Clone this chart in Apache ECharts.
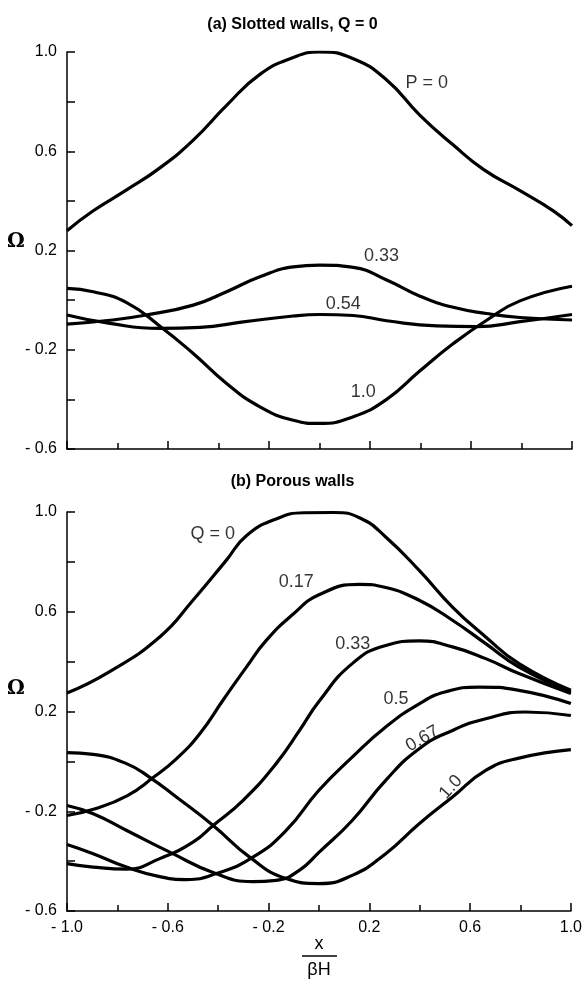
<!DOCTYPE html>
<html>
<head>
<meta charset="utf-8">
<script src="https://cdn.jsdelivr.net/npm/echarts@6/dist/echarts.min.js"></script>
<style>
  html, body { margin: 0; padding: 0; background: #fff; }
  #chart { width: 585px; height: 982px; }
</style>
</head>
<body>
<div id="chart"></div>
<script>
// Axis ranges shared by both panels
const xRange = [-1.0, 1.0];
const yRange = [-0.6, 1.0];

// (a) Slotted walls, Q = 0 : [x/(βH), Ω]
const slottedP0 = [[-1, 0.28], [-0.896, 0.36], [-0.764, 0.444], [-0.632, 0.533], [-0.5, 0.645], [-0.367, 0.786], [-0.236, 0.91], [-0.104, 0.978], [0, 1.0], [0.134, 0.973], [0.266, 0.887], [0.398, 0.745], [0.53, 0.625], [0.649, 0.527], [0.794, 0.441], [0.926, 0.36], [1, 0.30]];
const slottedP033 = [[-1, -0.097], [-0.83, -0.081], [-0.698, -0.062], [-0.5, -0.02], [-0.368, 0.034], [-0.236, 0.094], [-0.104, 0.134], [0, 0.141], [0.134, 0.132], [0.266, 0.081], [0.398, 0.016], [0.53, -0.029], [0.662, -0.054], [0.794, -0.07], [1, -0.08]];
const slottedP054 = [[-1, -0.06], [-0.83, -0.094], [-0.632, -0.114], [-0.473, -0.11], [-0.302, -0.088], [-0.104, -0.064], [0, -0.058], [0.134, -0.062], [0.266, -0.083], [0.464, -0.104], [0.622, -0.107], [0.794, -0.087], [1, -0.058]];
const slottedP1 = [[-1, 0.047], [-0.896, 0.034], [-0.764, -0.01], [-0.632, -0.105], [-0.5, -0.215], [-0.368, -0.336], [-0.236, -0.43], [-0.104, -0.484], [0, -0.497], [0.134, -0.47], [0.266, -0.4], [0.398, -0.285], [0.53, -0.175], [0.662, -0.081], [0.794, -0.003], [1, 0.056]];

// (b) Porous walls : [x/(βH), Ω]
const porousQ0 = [[-1, 0.274], [-0.834, 0.358], [-0.632, 0.499], [-0.5, 0.646], [-0.368, 0.806], [-0.288, 0.905], [-0.17, 0.972], [-0.06, 0.997], [0.06, 0.998], [0.165, 0.975], [0.265, 0.9], [0.398, 0.766], [0.53, 0.619], [0.662, 0.499], [0.794, 0.392], [1, 0.285]];
const porousQ017 = [[-1, -0.217], [-0.895, -0.192], [-0.762, -0.138], [-0.658, -0.065], [-0.566, 0.01], [-0.473, 0.111], [-0.381, 0.245], [-0.288, 0.378], [-0.209, 0.485], [-0.103, 0.59], [0, 0.668], [0.159, 0.71], [0.265, 0.697], [0.398, 0.646], [0.53, 0.566], [0.662, 0.472], [0.794, 0.378], [1, 0.278]];
const porousQ033 = [[-1, -0.41], [-0.896, -0.424], [-0.763, -0.432], [-0.632, -0.39], [-0.5, -0.324], [-0.42, -0.257], [-0.302, -0.157], [-0.17, -0.009], [-0.077, 0.124], [0, 0.24], [0.132, 0.392], [0.265, 0.465], [0.398, 0.483], [0.53, 0.459], [0.662, 0.412], [0.794, 0.352], [1, 0.272]];
const porousQ05 = [[-1, -0.333], [-0.896, -0.37], [-0.764, -0.424], [-0.632, -0.462], [-0.526, -0.474], [-0.407, -0.45], [-0.262, -0.384], [-0.13, -0.277], [0, -0.116], [0.132, 0.017], [0.265, 0.138], [0.398, 0.231], [0.5, 0.278], [0.635, 0.298], [0.794, 0.285], [1, 0.232]];
const porousQ067 = [[-1, -0.177], [-0.896, -0.21], [-0.763, -0.277], [-0.592, -0.364], [-0.41, -0.45], [-0.264, -0.482], [-0.17, -0.477], [-0.078, -0.437], [0, -0.365], [0.132, -0.237], [0.265, -0.076], [0.398, 0.051], [0.53, 0.124], [0.662, 0.171], [0.82, 0.198], [1, 0.184]];
const porousQ1 = [[-1, 0.035], [-0.896, 0.028], [-0.764, -0.009], [-0.67, -0.065], [-0.566, -0.143], [-0.42, -0.257], [-0.275, -0.384], [-0.13, -0.47], [0, -0.49], [0.132, -0.457], [0.265, -0.37], [0.398, -0.25], [0.53, -0.143], [0.662, -0.036], [0.794, 0.013], [1, 0.047]];

// Curve annotations: [text, x, Ω, rotation in degrees]
const slottedLabels = [['P = 0', 0.425, 0.873, 0], ['0.33', 0.246, 0.176, 0], ['0.54', 0.094, -0.015, 0], ['1.0', 0.173, -0.371, 0]];
const porousLabels = [['Q = 0', -0.421, 0.913, 0], ['0.17', -0.09, 0.719, 0], ['0.33', 0.134, 0.472, 0], ['0.5', 0.306, 0.252, 0], ['0.67', 0.411, 0.091, 30], ['1.0', 0.524, -0.103, 48]];

const panelTitles = ['(a) Slotted walls, Q = 0', '(b) Porous walls'];

const FONT = 'Liberation Sans, Arial, sans-serif';

function tickText(v) {
  const r = Math.round(v * 10) / 10;
  return r < 0 ? '- ' + (-r).toFixed(1) : r.toFixed(1);
}

function makeX(gridIndex, showLabels) {
  return {
    type: 'value', gridIndex: gridIndex, min: xRange[0], max: xRange[1], interval: 0.4,
    axisLine: { show: true, onZero: false, lineStyle: { color: '#000', width: 1.5 } },
    axisTick: { show: true, inside: true, length: 8, lineStyle: { color: '#000', width: 1.5 } },
    minorTick: { show: true, splitNumber: 2, length: 6, lineStyle: { color: '#000', width: 1.5 } },
    splitLine: { show: false },
    axisLabel: { show: showLabels, formatter: tickText, color: '#000', fontFamily: FONT, fontSize: 16, margin: 9 }
  };
}

function makeY(gridIndex) {
  return {
    type: 'value', gridIndex: gridIndex, min: yRange[0], max: yRange[1], interval: 0.4,
    axisLine: { show: true, onZero: false, lineStyle: { color: '#000', width: 1.5 } },
    axisTick: { show: true, inside: true, length: 8, lineStyle: { color: '#000', width: 1.5 } },
    minorTick: { show: true, splitNumber: 2, length: 8, lineStyle: { color: '#000', width: 1.5 } },
    splitLine: { show: false },
    axisLabel: { show: true, formatter: tickText, color: '#000', fontFamily: FONT, fontSize: 16, margin: 10 }
  };
}

function curve(data, idx) {
  return {
    type: 'line', xAxisIndex: idx, yAxisIndex: idx, data: data,
    showSymbol: false, smooth: 0.5, silent: true,
    lineStyle: { color: '#000', width: 3.2 }
  };
}

function labelSeries(list, idx) {
  return {
    type: 'scatter', xAxisIndex: idx, yAxisIndex: idx, symbolSize: 1, silent: true,
    itemStyle: { color: 'rgba(0,0,0,0)' },
    data: list.map(l => ({
      name: l[0], value: [l[1], l[2]],
      label: { show: true, position: 'inside', rotate: l[3], formatter: '{b}', color: '#000', fontFamily: FONT, fontSize: 18 }
    }))
  };
}

const chart = echarts.init(document.getElementById('chart'), null, { renderer: 'canvas' });

chart.setOption({
  backgroundColor: '#fff',
  animation: false,
  title: [
    { text: panelTitles[0], left: 'center', top: 12, textStyle: { fontFamily: FONT, fontSize: 16, fontWeight: 'bold', color: '#000' } },
    { text: panelTitles[1], left: 'center', top: 469, textStyle: { fontFamily: FONT, fontSize: 16, fontWeight: 'bold', color: '#000' } }
  ],
  grid: [
    { left: 67, right: 13, top: 52, height: 397 },
    { left: 67, right: 13, top: 512, height: 399 }
  ],
  xAxis: [makeX(0, false), makeX(1, true)],
  yAxis: [makeY(0), makeY(1)],
  series: [
    curve(slottedP0, 0), curve(slottedP033, 0), curve(slottedP054, 0), curve(slottedP1, 0),
    curve(porousQ0, 1), curve(porousQ017, 1), curve(porousQ033, 1), curve(porousQ05, 1), curve(porousQ067, 1), curve(porousQ1, 1),
    labelSeries(slottedLabels, 0), labelSeries(porousLabels, 1)
  ],
  graphic: [
    { type: 'text', left: 7, top: 232, style: { text: 'Ω', font: 'bold 20px "DejaVu Serif", serif', fill: '#000' } },
    { type: 'text', left: 7, top: 679, style: { text: 'Ω', font: 'bold 20px "DejaVu Serif", serif', fill: '#000' } },
    { type: 'text', x: 319, y: 944, style: { text: 'x', font: '18px ' + FONT, fill: '#000', align: 'center', verticalAlign: 'middle' } },
    { type: 'line', shape: { x1: 302, y1: 956, x2: 337, y2: 956 }, style: { stroke: '#000', lineWidth: 1.5 } },
    { type: 'text', x: 319, y: 970, style: { text: 'βH', font: '18px ' + FONT, fill: '#000', align: 'center', verticalAlign: 'middle' } }
  ]
});
</script>
</body>
</html>
